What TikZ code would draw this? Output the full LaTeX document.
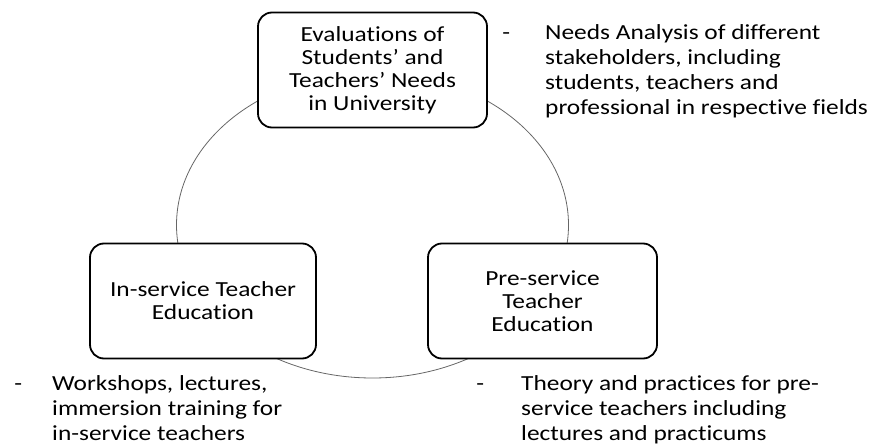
\documentclass[tikz,border=0pt]{standalone}
\usepackage{fontspec}
\setmainfont[FakeStretch=1.18, Ligatures={NoCommon}]{Carlito}
\begin{document}
\begin{tikzpicture}[
    x=1pt, y=-1pt,
    box/.style={rectangle, rounded corners=14pt, draw, line width=1.8pt, fill=white,
      minimum width=229pt, minimum height=115pt, align=center, inner sep=0pt,
      font=\fontsize{21.5}{23}\selectfont},
    note/.style={anchor=north west, align=left, inner sep=0pt,
      font=\fontsize{21.5}{25}\selectfont},
    ring/.style={draw=black!60, line width=0.8pt}
]
    \useasboundingbox (0,0) rectangle (883,444);

    % Cycle
    \coordinate (mid) at (372.5,225);
    \draw[ring] (mid) ellipse [x radius=196pt, y radius=153pt];

    % Boxes
    \node[box] (needs) at (372.5,70) {Evaluations of\\Students' and\\Teachers' Needs\\in University};
    \node[box, minimum width=226pt] (inservice) at (203,301) {In-service Teacher\\Education};
    \node[box] (preservice) at (542.5,301) {Pre-service\\Teacher\\Education};

    % Notes
    \node[note] (needsnote) at (545,24) {\llap{-\hspace{35pt}}Needs Analysis of different\\stakeholders, including\\students, teachers and\\professional in respective fields};
    \node[note] (inservicenote) at (52,375) {\llap{-\hspace{30pt}}Workshops, lectures,\\immersion training for\\in-service teachers};
    \node[note] (preservicenote) at (521,375) {\llap{-\hspace{37pt}}Theory and practices for pre-\\service teachers including\\lectures and practicums};

\end{tikzpicture}
\end{document}
